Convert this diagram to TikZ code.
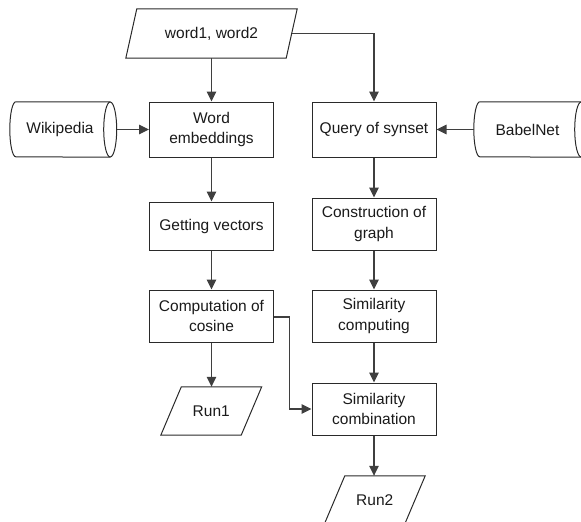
\documentclass[tikz,border=0pt]{standalone}
\usepackage{fontspec}
\setmainfont{Liberation Sans}
\usetikzlibrary{arrows.meta}
\definecolor{edgegray}{HTML}{3F3F3F}
\definecolor{boxline}{HTML}{2A2A2A}
\definecolor{txt}{HTML}{1A1A1A}
\tikzset{
  procbox/.style={draw=boxline, line width=1pt, fill=white, minimum width=124pt, inner sep=1pt,
    align=center, text=txt, font=\fontsize{15.5}{20.5}\selectfont},
  plainnode/.style={inner sep=0pt, align=center, text=txt, font=\fontsize{15.5}{20.5}\selectfont},
  outline/.style={draw=boxline, line width=1pt},
  conn/.style={draw=edgegray, line width=1.1pt, -{Triangle[length=10pt,width=9.5pt]}},
  connplain/.style={draw=edgegray, line width=1.1pt},
}
\begin{document}
\begin{tikzpicture}[x=1pt,y=-1pt]
\useasboundingbox (0,0) rectangle (581,522);

% input parallelogram
\node[plainnode, minimum width=160pt, minimum height=49pt] (w12) at (211.5,33.5) {word1, word2};
\draw[outline] ([xshift=-5.5pt]w12.south west) -- ([xshift=-5.5pt]w12.south east)
   -- ([xshift=5.5pt]w12.north east) -- ([xshift=5.5pt]w12.north west) -- cycle;

% left column
\node[procbox, minimum height=55pt] (emb) at (211.5,129.5) {Word\\embeddings};
\node[procbox, minimum height=48pt] (vec) at (211.5,226) {Getting vectors};
\node[procbox, minimum height=52pt] (cos) at (211.5,316) {Computation of\\cosine};
\node[plainnode, minimum width=80pt, minimum height=48pt] (run1) at (211.25,411) {Run1};
\draw[outline] ([xshift=-10.25pt]run1.south west) -- ([xshift=-10.25pt]run1.south east)
   -- ([xshift=10.25pt]run1.north east) -- ([xshift=10.25pt]run1.north west) -- cycle;

% right column
\node[procbox, minimum height=55pt] (query) at (374,129.5) {Query of synset};
\node[procbox, minimum height=52pt] (graph) at (374,224) {Construction of\\graph};
\node[procbox, minimum height=52pt] (simc) at (374,316) {Similarity\\computing};
\node[procbox, minimum height=52pt] (simb) at (374,409) {Similarity\\combination};
\node[plainnode, minimum width=80pt, minimum height=48pt] (run2) at (374.75,500) {Run2};
\draw[outline] ([xshift=-10.25pt]run2.south west) -- ([xshift=-10.25pt]run2.south east)
   -- ([xshift=10.25pt]run2.north east) -- ([xshift=10.25pt]run2.north west) -- cycle;

% data stores
\node[plainnode, minimum width=100pt, minimum height=55pt] (wiki) at (60,129.5) {Wikipedia};
\draw[outline] (wiki.north east) -- ([xshift=6pt]wiki.north west)
   arc[start angle=90, end angle=270, x radius=6pt, y radius=27.5pt] -- (wiki.south east);
\draw[outline] (wiki.east) ellipse[x radius=6.5pt, y radius=27.5pt];

\node[plainnode, minimum width=107pt, minimum height=55pt] (babel) at (527.5,129.5) {BabelNet};
\draw[outline] (babel.north east) -- ([xshift=6pt]babel.north west)
   arc[start angle=90, end angle=270, x radius=6pt, y radius=27.5pt] -- (babel.south east);
\draw[outline] (babel.east) ellipse[x radius=6.5pt, y radius=27.5pt];

% connectors
\draw[conn] (w12.south) -- (emb.north);
\draw[conn] (w12.east) -| (query.north);
\draw[conn] ([xshift=6.5pt]wiki.east) -- (emb.west);
\draw[conn] (babel.west) -- (query.east);
\draw[conn] (emb.south) -- (vec.north);
\draw[conn] (vec.south) -- (cos.north);
\draw[conn] (cos.south) -- (cos.south |- run1.north);
\draw[conn] (query.south) -- (graph.north);
\draw[conn] (graph.south) -- (simc.north);
\draw[conn] (simc.south) -- (simb.north);
\draw[conn] (simb.south) -- (simb.south |- run2.north);
\draw[conn] ([yshift=-1pt]cos.east) -- ++(15.5,0) |- (simb.west);
\end{tikzpicture}
\end{document}
